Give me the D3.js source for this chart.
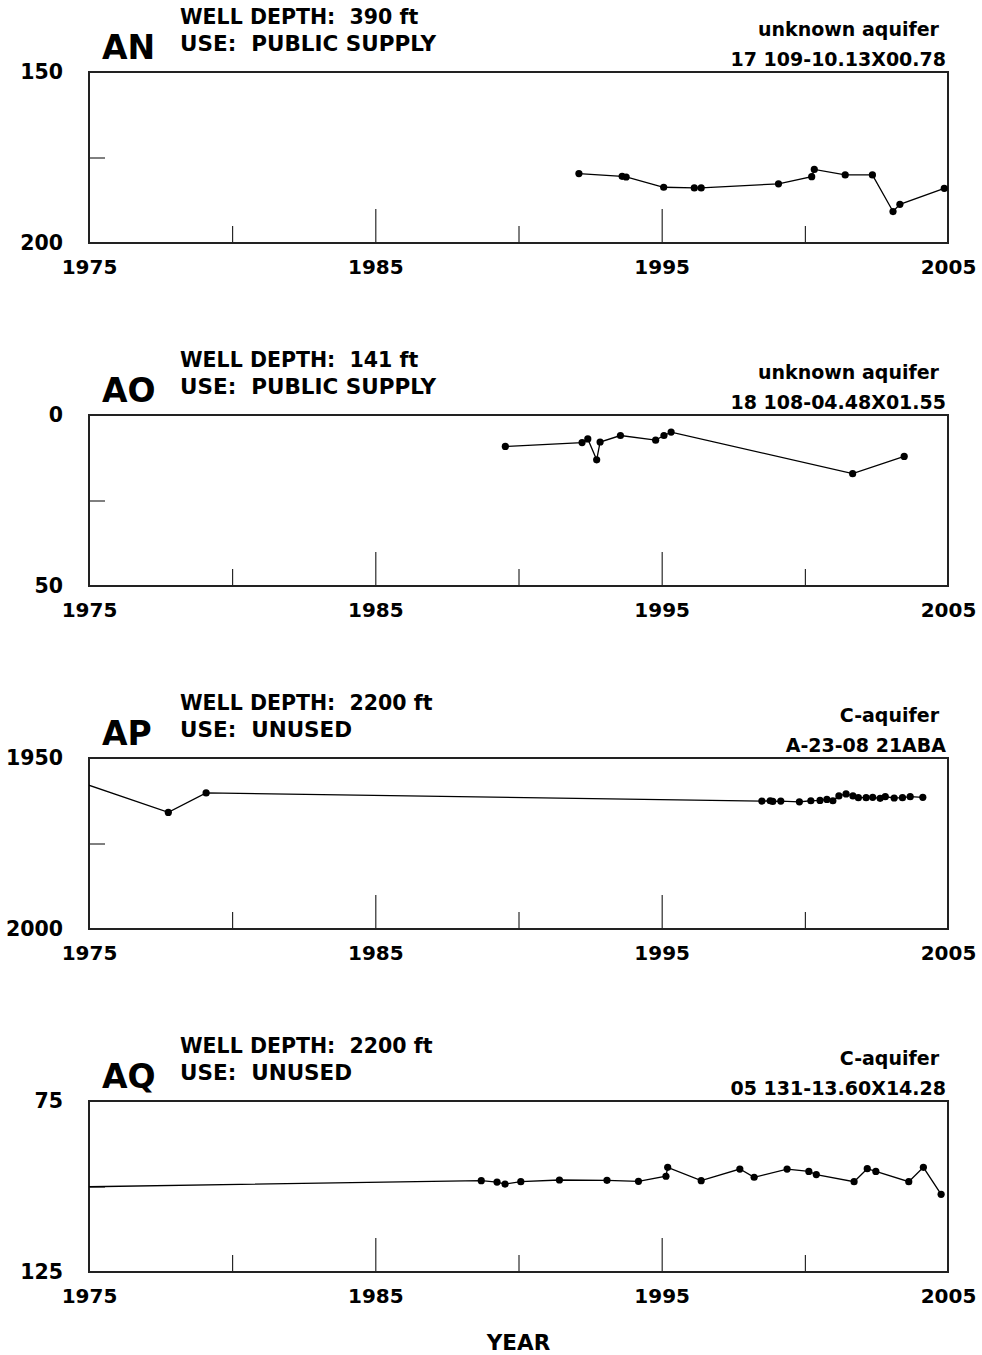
<!DOCTYPE html>
<html>
<head>
<meta charset="utf-8">
<script src="https://cdn.jsdelivr.net/npm/d3@7"></script>
<style>
body { margin: 0; background: #fff; }
svg { display: block; font-family: "DejaVu Sans", sans-serif; font-weight: bold; }
svg text { font-weight: bold; fill: #000; }
.axis .domain { display: none; }
.axis line { stroke: #000; stroke-width: 1; }
.axis text { font-size: 20.5px; font-weight: bold; fill: #000; font-family: "DejaVu Sans", sans-serif; }
.frame { fill: none; stroke: #222; stroke-width: 2; }
.series { fill: none; stroke: #000; stroke-width: 1.3; }
.dot { fill: #000; }
</style>
</head>
<body>
<svg width="982" height="1355"></svg>
<script>
const width = 982
const margin = { left: 89, right: 34 }
const panelH = 171
const panelTops = [72, 415, 758, 1101]

// year ticks
const labelYears = [1975, 1985, 1995, 2005]
const majorYears = [1985, 1995]
const minorYears = [1980, 1990, 2000]

// panel AN
const anYears = [1992.11, 1993.62, 1993.76, 1995.07, 1996.14, 1996.38, 1999.08, 2000.24, 2000.33, 2001.41, 2002.36, 2003.08, 2003.32, 2004.87]
const anLevels = [179.7, 180.5, 180.7, 183.7, 183.9, 183.9, 182.7, 180.6, 178.5, 180.1, 180.1, 190.8, 188.7, 184.0]

// panel AO
const aoYears = [1989.54, 1992.22, 1992.42, 1992.73, 1992.85, 1993.56, 1994.79, 1995.08, 1995.33, 2001.67, 2003.47]
const aoLevels = [9.2, 8.05, 7.0, 13.1, 7.9, 6.0, 7.35, 6.0, 5.0, 17.15, 12.1]

// panel AP (first point lies before 1975)
const apYears = [1974.0, 1977.77, 1979.09, 1998.50, 1998.79, 1998.88, 1999.16, 1999.81, 2000.21, 2000.53, 2000.77, 2000.98, 2001.19, 2001.44, 2001.68, 2001.87, 2002.14, 2002.37, 2002.63, 2002.81, 2003.12, 2003.41, 2003.68, 2004.12]
const apLevels = [1955.1, 1965.9, 1960.2, 1962.6, 1962.5, 1962.7, 1962.6, 1962.8, 1962.5, 1962.4, 1962.1, 1962.5, 1961.1, 1960.5, 1961.1, 1961.6, 1961.6, 1961.5, 1961.8, 1961.3, 1961.7, 1961.6, 1961.3, 1961.5]

// panel AQ (first point lies before 1975)
const aqYears = [1974.0, 1988.70, 1989.25, 1989.53, 1990.08, 1991.43, 1993.09, 1994.19, 1995.15, 1995.21, 1996.38, 1997.73, 1998.23, 1999.38, 2000.14, 2000.40, 2001.72, 2002.18, 2002.48, 2003.63, 2004.14, 2004.76]
const aqLevels = [100.2, 98.3, 98.7, 99.3, 98.6, 98.1, 98.2, 98.5, 97.0, 94.4, 98.3, 94.9, 97.3, 94.9, 95.6, 96.5, 98.6, 94.8, 95.6, 98.6, 94.4, 102.3]

const panels = [
  { id: "AN", depth: "390 ft", use: "PUBLIC SUPPLY", aquifer: "unknown aquifer", site: "17 109-10.13X00.78", domain: [150, 200], years: anYears, levels: anLevels },
  { id: "AO", depth: "141 ft", use: "PUBLIC SUPPLY", aquifer: "unknown aquifer", site: "18 108-04.48X01.55", domain: [0, 50], years: aoYears, levels: aoLevels },
  { id: "AP", depth: "2200 ft", use: "UNUSED", aquifer: "C-aquifer", site: "A-23-08 21ABA", domain: [1950, 2000], years: apYears, levels: apLevels },
  { id: "AQ", depth: "2200 ft", use: "UNUSED", aquifer: "C-aquifer", site: "05 131-13.60X14.28", domain: [75, 125], years: aqYears, levels: aqLevels }
]

const x = d3.scaleLinear().domain([1975, 2005]).range([margin.left, width - margin.right])

const svg = d3.select("svg")

panels.forEach(function(p, i) {
  const top = panelTops[i]
  const y = d3.scaleLinear().domain(p.domain).range([top, top + panelH])
  const g = svg.append("g").attr("class", "panel")
  const data = p.years.map(function(d, j) { return { year: d, level: p.levels[j] } })

  g.append("clipPath").attr("id", "clip" + i)
    .append("rect")
    .attr("x", x.range()[0]).attr("y", top)
    .attr("width", x.range()[1] - x.range()[0]).attr("height", panelH)

  // inward ticks
  g.append("g").attr("class", "axis")
    .attr("transform", "translate(0," + (top + panelH) + ")")
    .call(d3.axisBottom(x).tickValues(majorYears).tickSize(-34).tickFormat(""))
  g.append("g").attr("class", "axis")
    .attr("transform", "translate(0," + (top + panelH) + ")")
    .call(d3.axisBottom(x).tickValues(minorYears).tickSize(-17).tickFormat(""))
  g.append("g").attr("class", "axis x")
    .attr("transform", "translate(0," + (top + panelH) + ")")
    .call(d3.axisBottom(x).tickValues(labelYears).tickSize(0).tickPadding(17).tickFormat(d3.format("d")))
    .selectAll("text").style("font-size", "20px")
  const mid = (p.domain[0] + p.domain[1]) / 2
  g.append("g").attr("class", "axis")
    .attr("transform", "translate(" + margin.left + ",0)")
    .call(d3.axisLeft(y).tickValues([mid]).tickSize(-16).tickFormat(""))
  g.append("g").attr("class", "axis y")
    .attr("transform", "translate(" + margin.left + ",0)")
    .call(d3.axisLeft(y).tickValues(p.domain).tickSize(0).tickPadding(26).tickFormat(d3.format("d")))

  g.append("rect").attr("class", "frame")
    .attr("x", x.range()[0]).attr("y", top)
    .attr("width", x.range()[1] - x.range()[0]).attr("height", panelH)

  const plot = g.append("g").attr("clip-path", "url(#clip" + i + ")")
  plot.append("path").datum(data).attr("class", "series")
    .attr("d", d3.line().x(function(d) { return x(d.year) }).y(function(d) { return y(d.level) }))
  plot.selectAll("circle").data(data).enter().append("circle")
    .attr("class", "dot")
    .attr("cx", function(d) { return x(d.year) })
    .attr("cy", function(d) { return y(d.level) })
    .attr("r", 3.6)

  // header text
  g.append("text").text(p.id)
    .attr("x", 102).attr("y", top - 13)
    .style("font-size", "33px")
  g.append("text").text("WELL DEPTH:  " + p.depth)
    .attr("x", 180).attr("y", top - 48)
    .attr("xml:space", "preserve")
    .style("font-size", "20.5px")
  g.append("text").text("USE:  " + p.use)
    .attr("x", 180).attr("y", top - 21)
    .attr("xml:space", "preserve")
    .style("font-size", "21.5px")
  g.append("text").text(p.aquifer)
    .attr("x", 939).attr("y", top - 36)
    .attr("text-anchor", "end")
    .style("font-size", "19px")
  g.append("text").text(p.site)
    .attr("x", 946).attr("y", top - 6)
    .attr("text-anchor", "end")
    .style("font-size", "19px")
})

svg.append("text").text("YEAR")
  .attr("x", (x.range()[0] + x.range()[1]) / 2)
  .attr("y", 1350)
  .attr("text-anchor", "middle")
  .style("font-size", "21.5px")
</script>
</body>
</html>
